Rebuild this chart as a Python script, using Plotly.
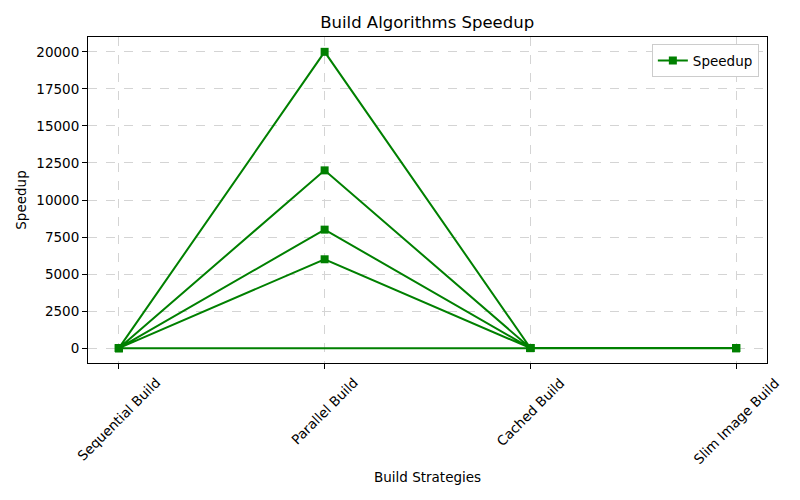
import plotly.graph_objects as go

strategies = ["Sequential Build", "Parallel Build", "Cached Build", "Slim Image Build"]
seq_speedup = [1, 1, 1, 1]
par_speedup = [6000, 8000, 12000, 20000]
cached_speedup = [5, 8, 10, 15]
slim_speedup = [2, 3, 4, 6]

x_vals, y_vals = [], []
for i in range(len(par_speedup)):
    x_vals += strategies
    y_vals += [seq_speedup[i], par_speedup[i], cached_speedup[i], slim_speedup[i]]

y_ticks = [0, 2500, 5000, 7500, 10000, 12500, 15000, 17500, 20000]

fig = go.Figure()
fig.add_trace(go.Scatter(
    x=x_vals, y=y_vals, mode="lines+markers", name="Speedup",
    line=dict(color="#008000", width=2),
    marker=dict(symbol="square", size=8, color="#008000"),
))

font = "DejaVu Sans, sans-serif"
fs = 13.5
fig.update_layout(
    width=800, height=500,
    margin=dict(l=88, r=33, t=37, b=137),
    plot_bgcolor="white", paper_bgcolor="white",
    font=dict(family=font, size=fs, color="black"),
    title=dict(text="Build Algorithms Speedup", x=0.534, xanchor="center",
               y=1 - 22 / 500, yanchor="middle", font=dict(size=16.5)),
    showlegend=True,
    legend=dict(x=0.988, xanchor="right", y=0.978, yanchor="top",
                bordercolor="#cccccc", borderwidth=1, bgcolor="white",
                font=dict(size=fs), tracegroupgap=0, itemwidth=30),
    xaxis=dict(
        type="category", categoryorder="array", categoryarray=strategies,
        range=[-0.15, 3.15], showticklabels=False,
        showgrid=True, gridcolor="#d4d4d4", griddash="dash", gridwidth=1,
        showline=True, linecolor="black", linewidth=1, mirror=True,
        ticks="outside", ticklen=5, tickcolor="black", zeroline=False,
    ),
    yaxis=dict(
        range=[-1000, 21000], tickvals=y_ticks, ticktext=[str(v) for v in y_ticks],
        tickfont=dict(size=fs),
        showgrid=True, gridcolor="#d4d4d4", griddash="dash", gridwidth=1,
        showline=True, linecolor="black", linewidth=1, mirror=True,
        ticks="outside", ticklen=5, tickcolor="black", zeroline=False,
        title=dict(text="Speedup", standoff=6, font=dict(size=fs)),
    ),
)

for s in strategies:
    fig.add_annotation(x=s, y=0, xref="x", yref="paper", yshift=-9,
                       text=s, showarrow=False, textangle=-45,
                       xanchor="center", yanchor="top", font=dict(size=fs))

fig.add_annotation(x=0.5, xref="paper", yref="paper",
                   y=(500 - 137 - 477) / (500 - 37 - 137), yanchor="middle",
                   text="Build Strategies", showarrow=False, font=dict(size=fs))

fig.write_html("out.html")
